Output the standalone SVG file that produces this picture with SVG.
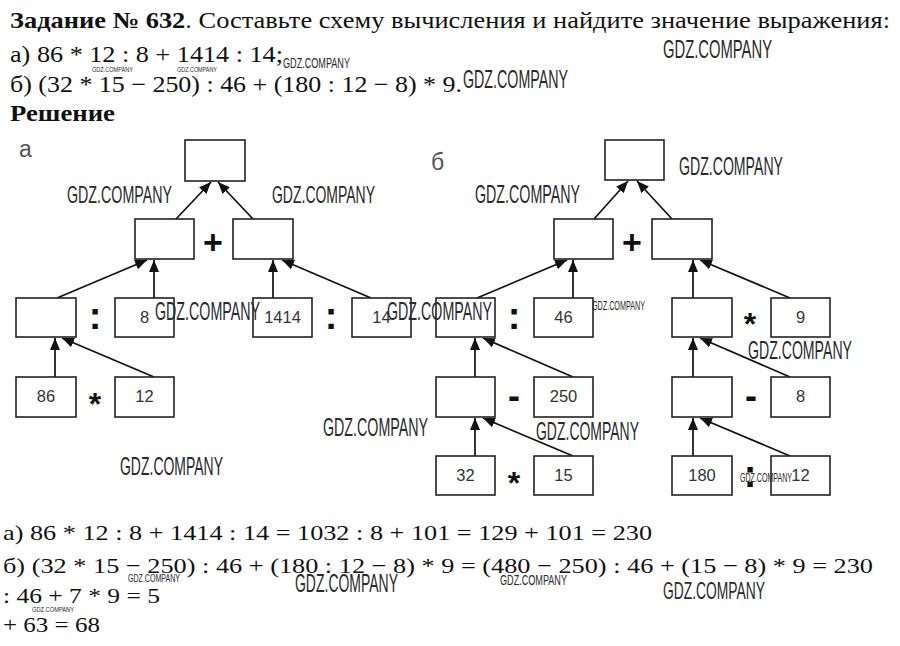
<svg xmlns="http://www.w3.org/2000/svg" width="900" height="646" viewBox="0 0 900 646">
<defs>
<marker id="ah" markerUnits="userSpaceOnUse" markerWidth="12" markerHeight="10" refX="12" refY="5" orient="auto">
<path d="M0,0 L12,5 L0,10 z" fill="#111"/>
</marker>
<style>
.tx{font-family:"Liberation Serif","Times New Roman",serif;fill:#111;}
.b{font-weight:bold;}
.box{fill:#fff;stroke:#222;stroke-width:1.6;}
.lb{font-family:"Liberation Sans",Arial,sans-serif;font-size:16.5px;fill:#333;text-anchor:middle;}
.op{font-family:"Liberation Sans",Arial,sans-serif;font-weight:bold;fill:#111;text-anchor:middle;}
.tl{font-family:"Liberation Sans",Arial,sans-serif;font-size:23px;fill:#555;}
.ar{stroke:#111;stroke-width:1.7;fill:none;marker-end:url(#ah);}
.wm{font-family:"Liberation Sans Narrow","Liberation Sans",sans-serif;fill:#2a2a2a;}
</style>
</defs>
<rect width="900" height="646" fill="#fff"/>

<g id="task">
<text class="tx" x="10" y="28" font-size="23" textLength="880" lengthAdjust="spacingAndGlyphs"><tspan class="b">Задание № 632</tspan>. Составьте схему вычисления и найдите значение выражения:</text>
<text class="tx" x="10" y="62" font-size="23" textLength="273" lengthAdjust="spacingAndGlyphs">а) 86 * 12 : 8 + 1414 : 14;</text>
<text class="tx" x="10" y="92" font-size="23" textLength="452" lengthAdjust="spacingAndGlyphs">б) (32 * 15 − 250) : 46 + (180 : 12 − 8) * 9.</text>
<text class="tx b" x="10" y="121" font-size="23" textLength="105" lengthAdjust="spacingAndGlyphs">Решение</text>
</g>

<text class="tl" x="19" y="157">а</text>
<text class="tl" x="431" y="170">б</text>

<g id="connectors">
<line class="ar" x1="176" y1="219" x2="211" y2="182"/>
<line class="ar" x1="253" y1="219" x2="218" y2="182"/>
<line class="ar" x1="57" y1="298" x2="147" y2="260"/>
<line class="ar" x1="154" y1="298" x2="154" y2="260"/>
<line class="ar" x1="273" y1="298" x2="273" y2="260"/>
<line class="ar" x1="371" y1="298" x2="282" y2="260"/>
<line class="ar" x1="55" y1="377" x2="55" y2="338"/>
<line class="ar" x1="154" y1="377" x2="62" y2="338"/>

<line class="ar" x1="594" y1="219" x2="628" y2="181"/>
<line class="ar" x1="672" y1="219" x2="637" y2="181"/>
<line class="ar" x1="477" y1="298" x2="567" y2="260"/>
<line class="ar" x1="573" y1="298" x2="573" y2="260"/>
<line class="ar" x1="693" y1="298" x2="693" y2="260"/>
<line class="ar" x1="790" y1="298" x2="700" y2="260"/>
<line class="ar" x1="475" y1="377" x2="475" y2="338"/>
<line class="ar" x1="573" y1="377" x2="483" y2="338"/>
<line class="ar" x1="475" y1="456" x2="475" y2="418"/>
<line class="ar" x1="573" y1="456" x2="483" y2="418"/>
<line class="ar" x1="693" y1="377" x2="693" y2="338"/>
<line class="ar" x1="790" y1="377" x2="700" y2="338"/>
<line class="ar" x1="693" y1="456" x2="693" y2="418"/>
<line class="ar" x1="790" y1="456" x2="700" y2="418"/>
</g>

<g id="a_top"><rect class="box" x="185" y="140" width="60" height="41"/></g>
<g id="a_sumL"><rect class="box" x="135" y="219" width="59" height="40"/></g>
<g id="a_sumR"><rect class="box" x="233" y="219" width="60" height="40"/></g>
<g id="a_div1"><rect class="box" x="16" y="298" width="60" height="39"/></g>
<g id="a_8"><rect class="box" x="115" y="298" width="59" height="39"/><text class="lb" x="144.5" y="323">8</text></g>
<g id="a_1414"><rect class="box" x="253" y="298" width="59" height="39"/><text class="lb" x="282.5" y="323">1414</text></g>
<g id="a_14"><rect class="box" x="352" y="298" width="59" height="39"/><text class="lb" x="381.5" y="323">14</text></g>
<g id="a_86"><rect class="box" x="16" y="377" width="60" height="40"/><text class="lb" x="46" y="402">86</text></g>
<g id="a_12"><rect class="box" x="115" y="377" width="59" height="40"/><text class="lb" x="144.5" y="402">12</text></g>

<g id="a_ops">
<text class="op" x="213" y="254" font-size="34">+</text>
<text class="op" x="95" y="329" font-size="38">:</text>
<text class="op" x="331" y="329" font-size="38">:</text>
<text class="op" x="95" y="415" font-size="32">*</text>
</g>

<g id="b_top"><rect class="box" x="605" y="140" width="59" height="40"/></g>
<g id="b_sumL"><rect class="box" x="554" y="219" width="59" height="40"/></g>
<g id="b_sumR"><rect class="box" x="652" y="219" width="60" height="40"/></g>
<g id="b_divL"><rect class="box" x="436" y="298" width="59" height="39"/></g>
<g id="b_46"><rect class="box" x="534" y="298" width="59" height="39"/><text class="lb" x="563.5" y="323">46</text></g>
<g id="b_mulR"><rect class="box" x="672" y="298" width="60" height="39"/></g>
<g id="b_9"><rect class="box" x="771" y="298" width="59" height="39"/><text class="lb" x="800.5" y="323">9</text></g>
<g id="b_subL"><rect class="box" x="436" y="377" width="59" height="40"/></g>
<g id="b_250"><rect class="box" x="534" y="377" width="59" height="40"/><text class="lb" x="563.5" y="402">250</text></g>
<g id="b_subR"><rect class="box" x="672" y="377" width="60" height="40"/></g>
<g id="b_8"><rect class="box" x="771" y="377" width="59" height="40"/><text class="lb" x="800.5" y="402">8</text></g>
<g id="b_32"><rect class="box" x="436" y="456" width="59" height="39"/><text class="lb" x="465.5" y="481">32</text></g>
<g id="b_15"><rect class="box" x="534" y="456" width="59" height="39"/><text class="lb" x="563.5" y="481">15</text></g>
<g id="b_180"><rect class="box" x="672" y="456" width="60" height="39"/><text class="lb" x="702" y="481">180</text></g>
<g id="b_12"><rect class="box" x="771" y="456" width="59" height="39"/><text class="lb" x="800.5" y="481">12</text></g>

<g id="b_ops">
<text class="op" x="632" y="254" font-size="34">+</text>
<text class="op" x="514" y="329" font-size="38">:</text>
<text class="op" x="750" y="335" font-size="32">*</text>
<text class="op" x="514" y="408" font-size="36">-</text>
<text class="op" x="751" y="408" font-size="36">-</text>
<text class="op" x="514" y="494" font-size="32">*</text>
<text class="op" x="750" y="487" font-size="38">:</text>
</g>

<g id="solution">
<text class="tx" x="3" y="540" font-size="22" textLength="649" lengthAdjust="spacingAndGlyphs">а) 86 * 12 : 8 + 1414 : 14 = 1032 : 8 + 101 = 129 + 101 = 230</text>
<text class="tx" x="3" y="573" font-size="22" textLength="870" lengthAdjust="spacingAndGlyphs">б) (32 * 15 − 250) : 46 + (180 : 12 − 8) * 9 = (480 − 250) : 46 + (15 − 8) * 9 = 230</text>
<text class="tx" x="3" y="603" font-size="22" textLength="157" lengthAdjust="spacingAndGlyphs">: 46 + 7 * 9 = 5</text>
<text class="tx" x="3" y="632" font-size="22" textLength="97" lengthAdjust="spacingAndGlyphs">+ 63 = 68</text>
</g>

<g id="watermarks">
<text class="wm" x="663" y="58" font-size="25" textLength="109" lengthAdjust="spacingAndGlyphs">GDZ.COMPANY</text>
<text class="wm" x="463" y="88" font-size="25" textLength="105" lengthAdjust="spacingAndGlyphs">GDZ.COMPANY</text>
<text class="wm" x="92" y="72" font-size="7" textLength="41" lengthAdjust="spacingAndGlyphs">GDZ.COMPANY</text>
<text class="wm" x="177" y="72" font-size="7" textLength="40" lengthAdjust="spacingAndGlyphs">GDZ.COMPANY</text>
<text class="wm" x="283" y="68" font-size="14" textLength="67" lengthAdjust="spacingAndGlyphs">GDZ.COMPANY</text>
<text class="wm" x="67" y="203" font-size="24" textLength="105" lengthAdjust="spacingAndGlyphs">GDZ.COMPANY</text>
<text class="wm" x="272" y="203" font-size="24" textLength="103" lengthAdjust="spacingAndGlyphs">GDZ.COMPANY</text>
<text class="wm" x="155" y="320" font-size="25" textLength="105" lengthAdjust="spacingAndGlyphs">GDZ.COMPANY</text>
<text class="wm" x="387" y="320" font-size="25" textLength="105" lengthAdjust="spacingAndGlyphs">GDZ.COMPANY</text>
<text class="wm" x="323" y="436" font-size="25" textLength="105" lengthAdjust="spacingAndGlyphs">GDZ.COMPANY</text>
<text class="wm" x="120" y="475" font-size="25" textLength="103" lengthAdjust="spacingAndGlyphs">GDZ.COMPANY</text>
<text class="wm" x="679" y="175" font-size="25" textLength="104" lengthAdjust="spacingAndGlyphs">GDZ.COMPANY</text>
<text class="wm" x="475" y="203" font-size="25" textLength="105" lengthAdjust="spacingAndGlyphs">GDZ.COMPANY</text>
<text class="wm" x="592" y="310" font-size="12" textLength="53" lengthAdjust="spacingAndGlyphs">GDZ.COMPANY</text>
<text class="wm" x="748" y="359" font-size="25" textLength="104" lengthAdjust="spacingAndGlyphs">GDZ.COMPANY</text>
<text class="wm" x="536" y="440" font-size="25" textLength="103" lengthAdjust="spacingAndGlyphs">GDZ.COMPANY</text>
<text class="wm" x="740" y="482" font-size="12" textLength="52" lengthAdjust="spacingAndGlyphs">GDZ.COMPANY</text>
<text class="wm" x="128" y="582" font-size="11" textLength="52" lengthAdjust="spacingAndGlyphs">GDZ.COMPANY</text>
<text class="wm" x="295" y="592" font-size="25" textLength="103" lengthAdjust="spacingAndGlyphs">GDZ.COMPANY</text>
<text class="wm" x="32" y="612" font-size="8" textLength="42" lengthAdjust="spacingAndGlyphs">GDZ.COMPANY</text>
<text class="wm" x="500" y="585" font-size="14" textLength="67" lengthAdjust="spacingAndGlyphs">GDZ.COMPANY</text>
<text class="wm" x="663" y="599" font-size="24" textLength="102" lengthAdjust="spacingAndGlyphs">GDZ.COMPANY</text>
</g>
</svg>
